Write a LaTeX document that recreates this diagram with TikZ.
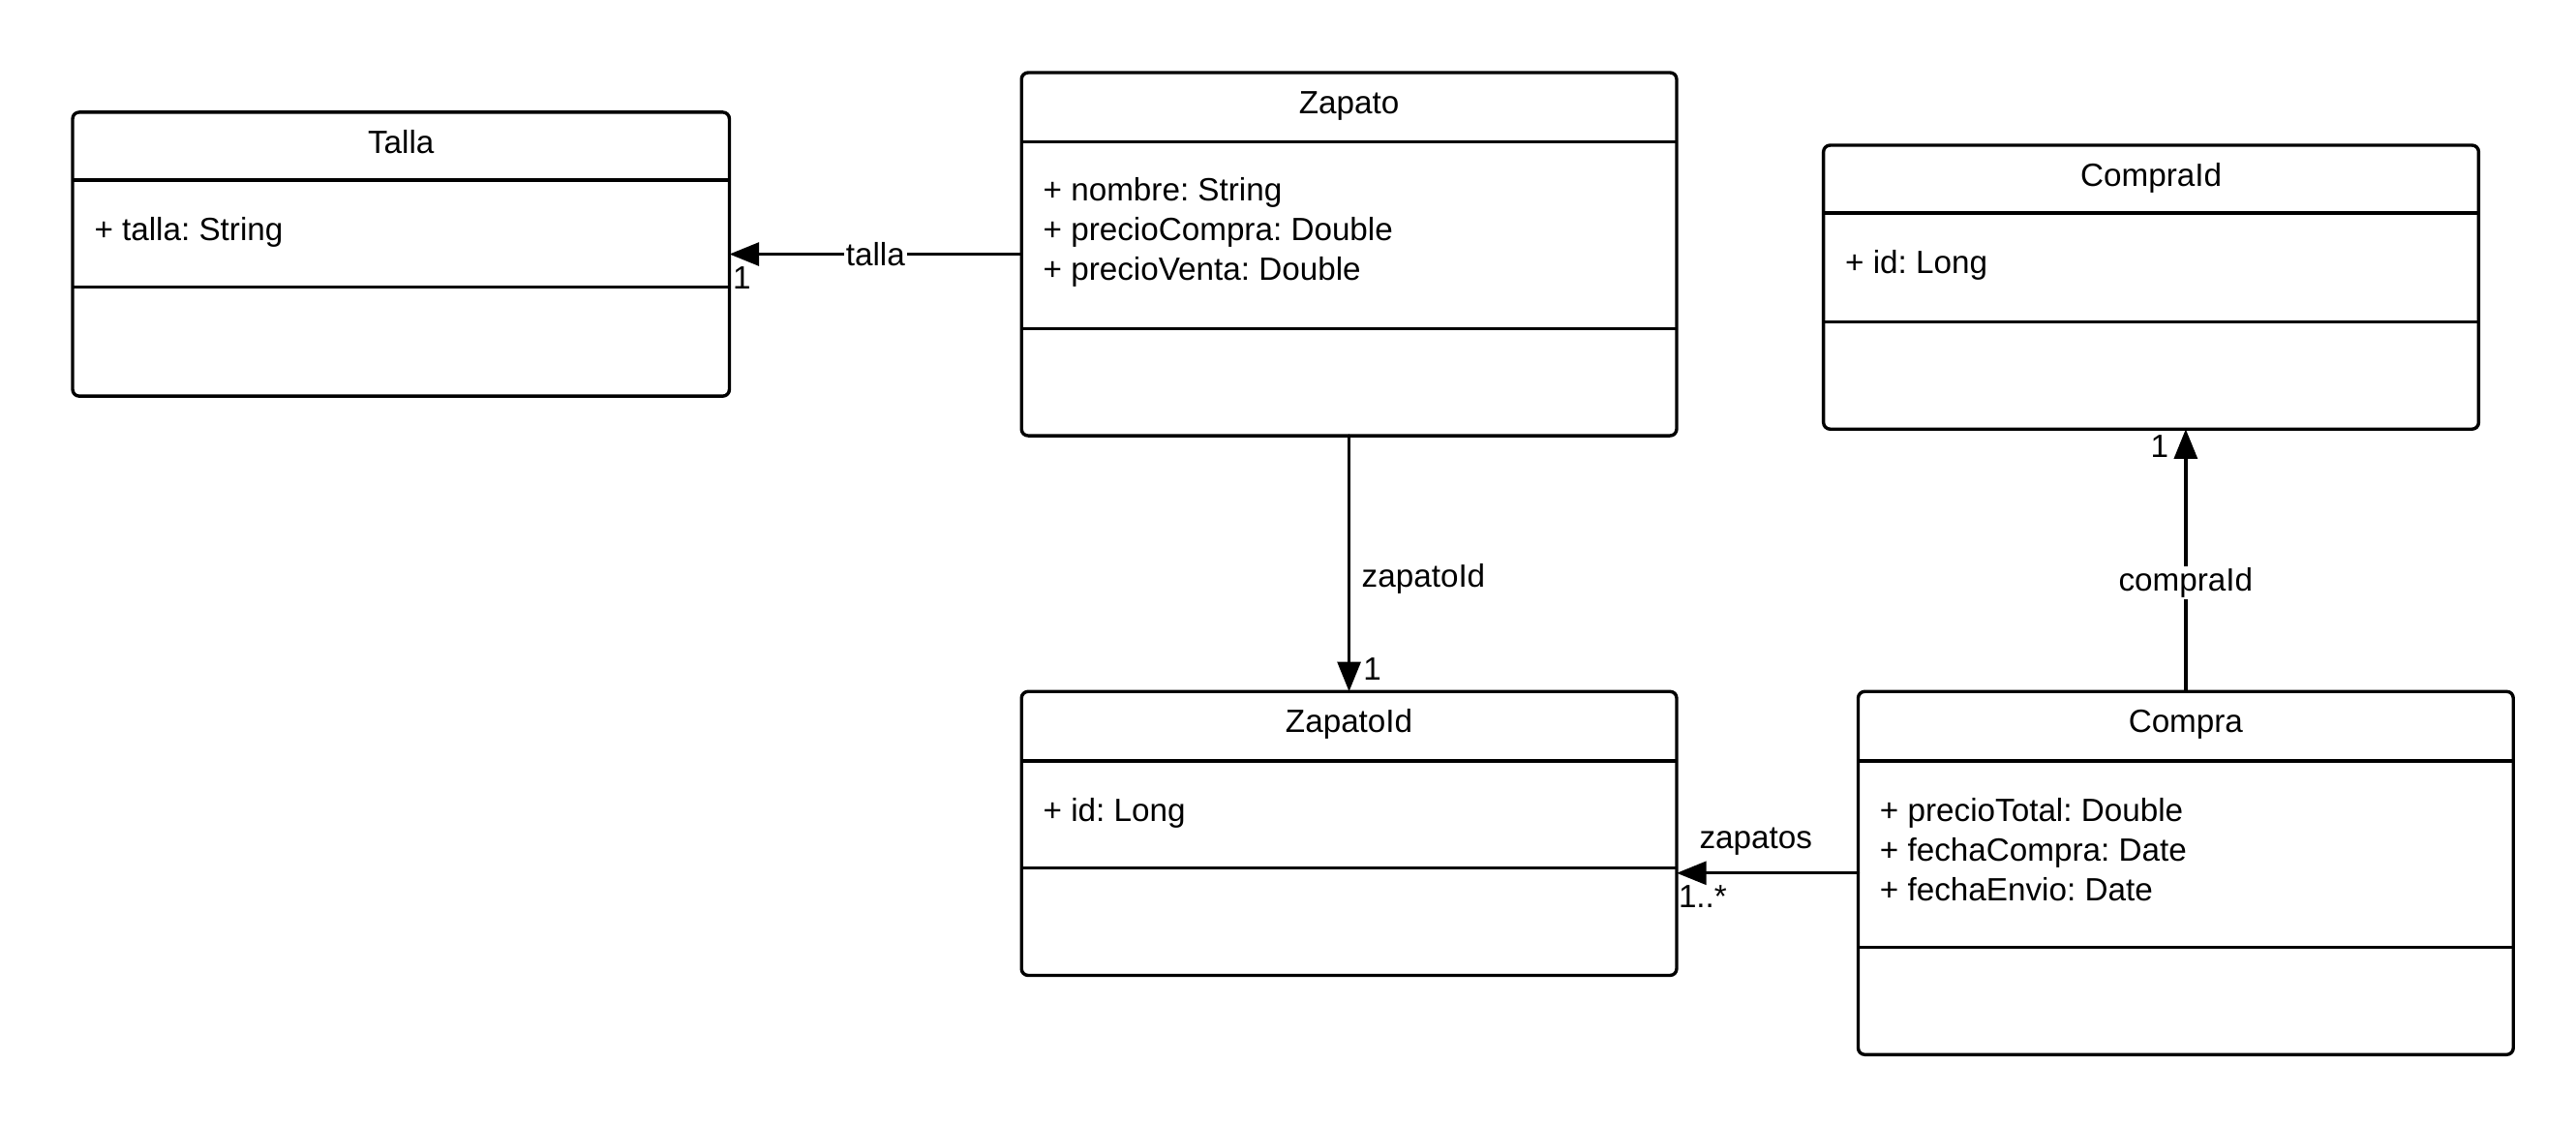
\documentclass[tikz,border=0pt]{standalone}
\usepackage{fontspec}
\setmainfont{Liberation Sans}
\usetikzlibrary{arrows.meta}
\frenchspacing
\tikzset{
  classbox/.style={draw, line width=2pt, rounded corners=4pt, inner sep=0pt, outer sep=0pt},
  sep/.style={line width=2pt, line cap=butt},
  attr/.style={anchor=base west, inner sep=0pt},
  ttl/.style={anchor=base, inner sep=0pt},
  lbl/.style={inner sep=1pt},
  link/.style={line width=2pt, ->}
}
\begin{document}
\begin{tikzpicture}[x=1pt, y=-1pt, line join=round, line cap=round, >={Triangle[length=18pt,width=14pt]}, font=\fontsize{19.5}{24}\selectfont]
\useasboundingbox (0,0) rectangle (1561,681);
% boxes
\node[classbox, minimum width=398pt, minimum height=172pt] (talla) at (243,154) {};
\node[classbox, minimum width=397pt, minimum height=220pt] (zapato) at (817.5,154) {};
\node[classbox, minimum width=397pt, minimum height=172pt] (compraId) at (1303.5,174) {};
\node[classbox, minimum width=397pt, minimum height=172pt] (zapatoId) at (817.5,505) {};
\node[classbox, minimum width=397pt, minimum height=220pt] (compra) at (1324.5,529) {};
% separators
\foreach \b/\h/\d in {talla/109/174, zapato/86/199, compraId/129/195, zapatoId/461/526, compra/461/574}{
  \draw[sep] (\b.west |- 0,\h) -- (\b.east |- 0,\h);
  \draw[sep] (\b.west |- 0,\d) -- (\b.east |- 0,\d);
}
% titles
\node[ttl] (tallaT) at (243,93) {Talla};
\node[ttl] (zapatoT) at (817.5,69) {Zapato};
\node[ttl] (compraIdT) at (1303.5,113) {CompraId};
\node[ttl] (zapatoIdT) at (817.5,444) {ZapatoId};
\node[ttl] (compraT) at (1324.5,444) {Compra};
% attributes
\node[attr] (tallaA) at (57,146) {+ talla: String};
\foreach \t [count=\i] in {+ nombre: String, + precioCompra: Double, + precioVenta: Double}
  \node[attr] (zapatoA\i) at (632,98+24*\i) {\t};
\node[attr] (compraIdA) at (1118,166) {+ id: Long};
\node[attr] (zapatoIdA) at (632,498) {+ id: Long};
\foreach \t [count=\i] in {+ precioTotal: Double, + fechaCompra: Date, + fechaEnvio: Date}
  \node[attr] (compraA\i) at (1139,474+24*\i) {\t};
% links
\draw[link] (zapato.west) -- node[lbl, fill=white] (tallaL) {talla} (talla.east);
\node[attr] (tallaM) at (444,175) {1};
\draw[link] (zapato.south) -- (zapatoId.north);
\node[lbl, anchor=west] (zapatoIdL) at (824,351) {zapatoId};
\node[attr] (zapatoIdM) at (826,412) {1};
\draw[link] (compra.north) -- node[lbl, fill=white, pos=0.415] (compraIdL) {compraId} (compra.north |- compraId.south);
\node[attr] (compraIdM) at (1303,277) {1};
\draw[link] (compra.west) -- (compra.west -| zapatoId.east);
\node[lbl] (zapatosL) at (1064,510) {zapatos};
\node[attr] (zapatosM) at (1017,550) {1..*};
\end{tikzpicture}
\end{document}
